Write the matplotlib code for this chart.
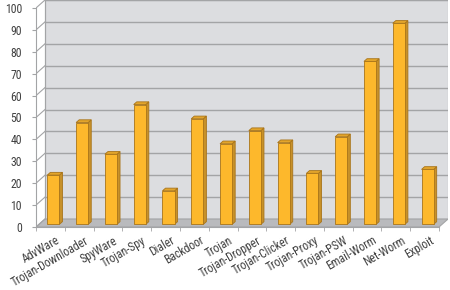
import matplotlib
matplotlib.use('Agg')
from matplotlib import pyplot as plt
from matplotlib.patches import Polygon
from matplotlib.transforms import ScaledTranslation

categories = ['AdvWare', 'Trojan-Downloader', 'SpyWare', 'Trojan-Spy', 'Dialer',
              'Backdoor', 'Trojan', 'Trojan-Dropper', 'Trojan-Clicker', 'Trojan-Proxy',
              'Trojan-PSW', 'Email-Worm', 'Net-Worm', 'Exploit']
values = [22.5, 46.5, 32.0, 54.7, 15.3, 48.2, 36.8, 42.8, 37.3, 23.3, 40.0, 74.4, 91.8, 25.1]
yticks = list(range(0, 101, 10))

plt.rcParams['font.family'] = ['Roboto Condensed', 'DejaVu Sans']

# fake 3d depth, in data units
DX = 0.312
DY = 3.65
n = len(categories)

fig = plt.figure(figsize=(4.5, 2.9), dpi=100)
fig.set_facecolor('white')
ax = fig.add_axes([36 / 450, 63 / 290, 412 / 450, 227 / 290])
ax.set_xlim(-0.5, n - 0.5 + DX)
ax.set_ylim(0, 100 + DY)
ax.patch.set_alpha(0)

wall = '#dcdde0'
floor = '#b9babd'
grid = '#a3a4a6'
txt = '#404040'

# back wall
ax.add_patch(Polygon([(-0.5 + DX, DY), (n - 0.5 + DX, DY), (n - 0.5 + DX, 100 + DY),
                      (-0.5 + DX, 100 + DY)], closed=True, facecolor=wall,
                     edgecolor=grid, lw=0.8, zorder=0))
# floor
ax.add_patch(Polygon([(-0.5, 0), (n - 0.5, 0), (n - 0.5 + DX, DY), (-0.5 + DX, DY)],
                     closed=True, facecolor=floor, edgecolor=grid, lw=0.8, zorder=1))
# gridlines on the wall + side wall
for v in yticks:
    if v > 0:
        ax.plot([-0.5 + DX, n - 0.5 + DX], [v + DY, v + DY], color=grid, lw=1, zorder=1)
    ax.plot([-0.5, -0.5 + DX], [v, v + DY], color=grid, lw=0.8, zorder=1)
ax.plot([-0.5 + DX, -0.5 + DX], [DY, 100 + DY], color=grid, lw=0.8, zorder=1)

# bars
front_c = '#fdb82c'
side_c = '#c7912a'
top_c = '#e3a52b'
edge_c = '#a8741a'
w = 0.42
d0, d1 = 0.33, 0.67
xs = [i + d0 * DX for i in range(n)]
ax.bar(xs, values, width=w, bottom=d0 * DY, color=front_c, edgecolor=edge_c, lw=0.6, zorder=3)
for i, v in enumerate(values):
    xr = i + w / 2
    xl = i - w / 2
    side = [(xr + d0 * DX, d0 * DY), (xr + d1 * DX, d1 * DY),
            (xr + d1 * DX, v + d1 * DY), (xr + d0 * DX, v + d0 * DY)]
    top = [(xl + d0 * DX, v + d0 * DY), (xr + d0 * DX, v + d0 * DY),
           (xr + d1 * DX, v + d1 * DY), (xl + d1 * DX, v + d1 * DY)]
    ax.add_patch(Polygon(side, closed=True, facecolor=side_c, edgecolor=edge_c, lw=0.6, zorder=2))
    ax.add_patch(Polygon(top, closed=True, facecolor=top_c, edgecolor=edge_c, lw=0.6, zorder=2))

# axes
for s in ['top', 'right']:
    ax.spines[s].set_visible(False)
ax.spines['left'].set_bounds(0, 100)
ax.spines['bottom'].set_bounds(-0.5, n - 0.5)
ax.spines['left'].set_color(grid)
ax.spines['bottom'].set_color(grid)
ax.spines['left'].set_zorder(4)

ax.set_yticks(yticks)
ax.set_yticklabels([str(t) for t in yticks], fontsize=8.5, color=txt)
ax.tick_params(axis='y', length=3, color=grid, pad=7)

ax.set_xticks([i - 0.5 for i in range(n + 1)], minor=True)
ax.set_xticks(range(n))
ax.set_xticklabels(categories, rotation=30, ha='right', va='top', rotation_mode='anchor',
                   fontsize=8.5, color=txt)
ax.tick_params(axis='x', which='major', length=0, pad=5)
ax.tick_params(axis='x', which='minor', length=3, color=grid)
shift = ScaledTranslation(5 / 100, 0, fig.dpi_scale_trans)
for lbl in ax.get_xticklabels():
    lbl.set_transform(lbl.get_transform() + shift)

plt.savefig('out.png', dpi=100)
